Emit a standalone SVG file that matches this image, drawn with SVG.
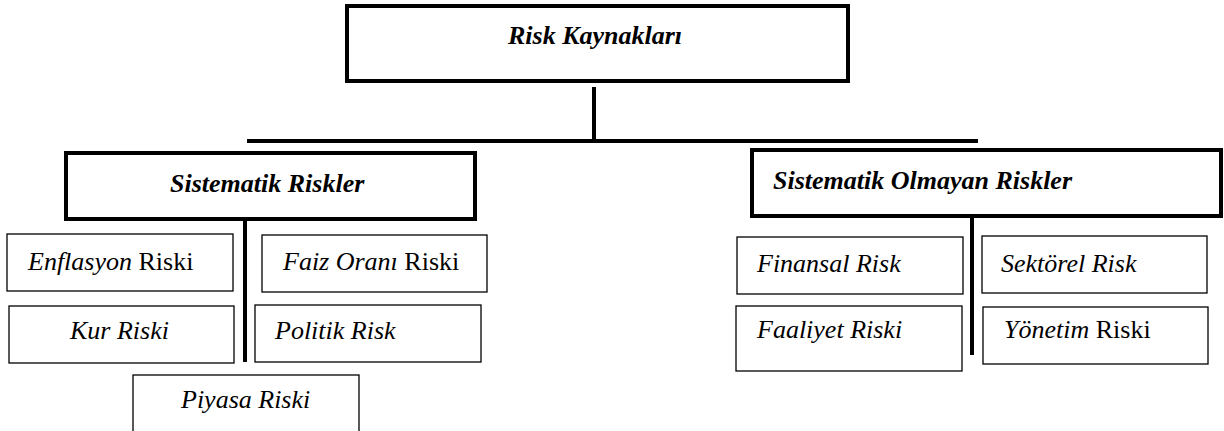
<svg xmlns="http://www.w3.org/2000/svg" width="1224" height="431" viewBox="0 0 1224 431">
<style>
  .bg { fill: #ffffff; }
  .main { fill: #ffffff; stroke: #000000; stroke-width: 4; }
  .leaf { fill: #ffffff; stroke: #000000; stroke-width: 1.3; }
  .conn { stroke: #000000; stroke-width: 4; fill: none; }
  text { font-family: "Liberation Serif", "Times New Roman", serif; font-size: 26px; fill: #000000; }
  .bi { font-weight: bold; font-style: italic; }
  .it { font-style: italic; }
</style>
<rect class="bg" x="0" y="0" width="1224" height="431"/>
<g id="connectors">
  <line class="conn" x1="594" y1="87" x2="594" y2="141"/>
  <line class="conn" x1="247" y1="141" x2="978" y2="141"/>
  <line class="conn" x1="245" y1="219" x2="245" y2="362"/>
  <line class="conn" x1="972" y1="216" x2="972" y2="355"/>
</g>
<g id="risk-kaynaklari">
  <rect class="main" x="347" y="6" width="501" height="75"/>
  <text class="bi" x="508" y="44">Risk Kaynakları</text>
</g>
<g id="sistematik">
  <rect class="main" x="66" y="153" width="409" height="66"/>
  <text class="bi" x="170" y="192">Sistematik Riskler</text>
</g>
<g id="sistematik-olmayan">
  <rect class="main" x="752" y="150" width="469" height="66"/>
  <text class="bi" x="773" y="189">Sistematik Olmayan Riskler</text>
</g>
<g id="enflasyon">
  <rect class="leaf" x="7" y="234" width="226" height="57"/>
  <text x="28" y="270"><tspan class="it">Enflasyon</tspan> Riski</text>
</g>
<g id="faiz">
  <rect class="leaf" x="262" y="235" width="225" height="57"/>
  <text x="283" y="270"><tspan class="it">Faiz Oranı</tspan> Riski</text>
</g>
<g id="kur">
  <rect class="leaf" x="9" y="306" width="225" height="57"/>
  <text class="it" x="70" y="339">Kur Riski</text>
</g>
<g id="politik">
  <rect class="leaf" x="255" y="305" width="226" height="57"/>
  <text class="it" x="275" y="339">Politik Risk</text>
</g>
<g id="piyasa">
  <rect class="leaf" x="133" y="375" width="226" height="70"/>
  <text class="it" x="181" y="408">Piyasa Riski</text>
</g>
<g id="finansal">
  <rect class="leaf" x="737" y="237" width="226" height="57"/>
  <text class="it" x="757" y="272">Finansal Risk</text>
</g>
<g id="sektorel">
  <rect class="leaf" x="982" y="236" width="225" height="57"/>
  <text class="it" x="1001" y="272">Sektörel Risk</text>
</g>
<g id="faaliyet">
  <rect class="leaf" x="736" y="306" width="226" height="65"/>
  <text class="it" x="757" y="338">Faaliyet Riski</text>
</g>
<g id="yonetim">
  <rect class="leaf" x="983" y="307" width="225" height="57"/>
  <text x="1004" y="338"><tspan class="it">Yönetim</tspan> Riski</text>
</g>
</svg>
